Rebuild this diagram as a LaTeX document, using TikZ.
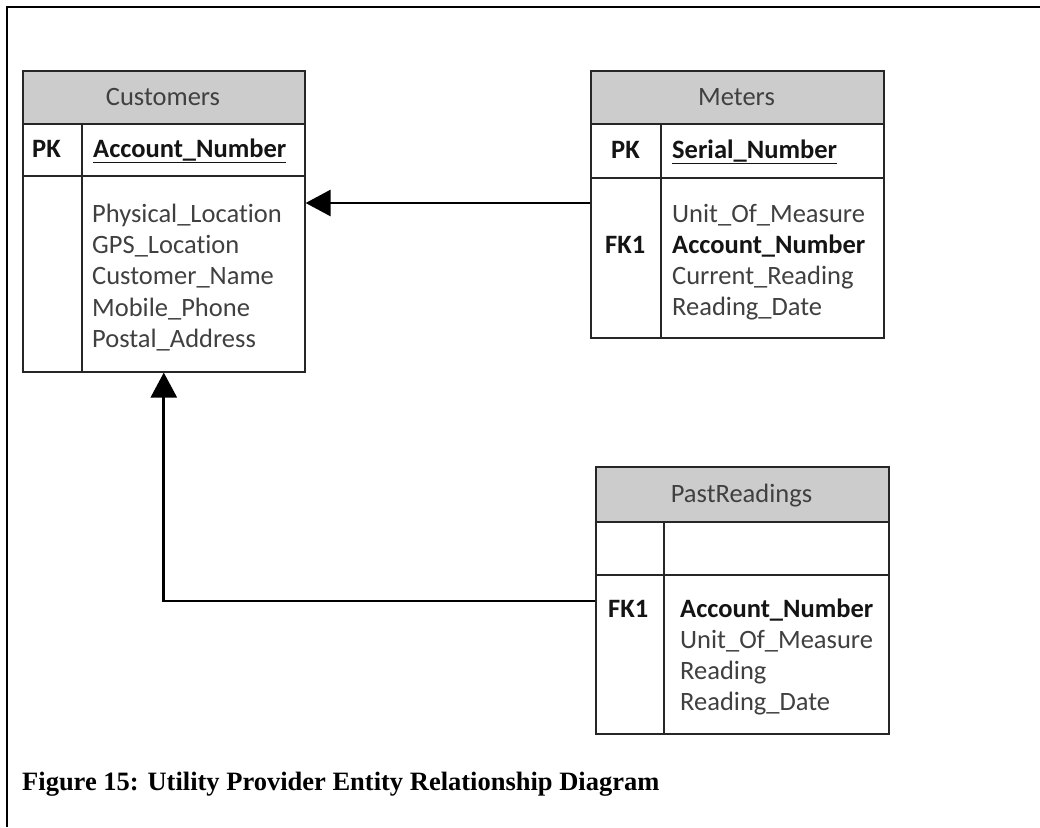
\documentclass[tikz,border=0pt]{standalone}
\usepackage{fontspec}
\setmainfont{Carlito}[Ligatures={NoCommon}]
\newfontfamily\capfont{Liberation Serif}
\usetikzlibrary{arrows.meta}
\definecolor{hdrgray}{RGB}{204,204,204}
\definecolor{txtgray}{RGB}{64,64,64}
\definecolor{keyblack}{RGB}{20,20,20}
\begin{document}
\begin{tikzpicture}[x=1pt,y=-1pt,
  tablebox/.style={draw=black!85,line width=1.6pt,fill=white,inner sep=0pt,anchor=north west},
  headbox/.style={draw=black!85,line width=1.6pt,fill=hdrgray,inner sep=0pt,anchor=north west},
  rule/.style={draw=black!85,line width=1.6pt},
  txt/.style={inner sep=0pt,anchor=base west,text=txtgray,font=\fontsize{26.5}{31}\selectfont},
  keytxt/.style={txt,text=keyblack,font=\fontsize{26.5}{31}\selectfont\bfseries},
  titletxt/.style={txt,anchor=base},
  conn/.style={line width=2.8pt,-{Triangle[length=25pt,width=26pt]}}]
\useasboundingbox (0,0) rectangle (1040,827);
% page frame (top and left edges)
\draw[line width=2pt] (7,827) -- (7,7) -- (1040,7);

% ---------- Customers ----------
\node[tablebox,minimum width=282pt,minimum height=301pt] (cust) at (22,70) {};
\node[headbox,minimum width=282pt,minimum height=53pt] (custhead) at (22,70) {};
\draw[rule] (22,176) -- (304,176);
\draw[rule] (82,123) -- (82,371);
\node[titletxt] (custtitle) at (163,105) {Customers};
\node[keytxt] (custpk) at (32,157) {PK};
\node[keytxt] (custpkname) at (93,157) {\underline{Account\_Number}};
\node[txt] (custa1) at (92,222) {Physical\_Location};
\node[txt] (custa2) at (92,253.3) {GPS\_Location};
\node[txt] (custa3) at (92,284.6) {Customer\_Name};
\node[txt] (custa4) at (92,316) {Mobile\_Phone};
\node[txt] (custa5) at (92,347) {Postal\_Address};

% ---------- Meters ----------
\node[tablebox,minimum width=293pt,minimum height=267pt] (met) at (590,70) {};
\node[headbox,minimum width=293pt,minimum height=53pt] (methead) at (590,70) {};
\draw[rule] (590,178) -- (883,178);
\draw[rule] (661,123) -- (661,337);
\node[titletxt] (mettitle) at (736.5,105) {Meters};
\node[keytxt] (metpk) at (611,158) {PK};
\node[keytxt] (metpkname) at (672,158) {\underline{Serial\_Number}};
\node[keytxt] (metfk) at (605,253) {FK1};
\node[txt] (meta1) at (672,222) {Unit\_Of\_Measure};
\node[keytxt] (meta2) at (672,253) {Account\_Number};
\node[txt] (meta3) at (672,284) {Current\_Reading};
\node[txt] (meta4) at (672,315) {Reading\_Date};

% ---------- PastReadings ----------
\node[tablebox,minimum width=293pt,minimum height=267pt] (past) at (595,466) {};
\node[headbox,minimum width=293pt,minimum height=55pt] (pasthead) at (595,466) {};
\draw[rule] (595,575) -- (888,575);
\draw[rule] (664,521) -- (664,733);
\node[titletxt] (pasttitle) at (741.5,502) {PastReadings};
\node[keytxt] (pastfk) at (608,617) {FK1};
\node[keytxt] (pasta1) at (680,617) {Account\_Number};
\node[txt] (pasta2) at (680,648) {Unit\_Of\_Measure};
\node[txt] (pasta3) at (680,679) {Reading};
\node[txt] (pasta4) at (680,710) {Reading\_Date};

% ---------- relationships ----------
\coordinate (lvl1) at (0,203);
\coordinate (lvl2) at (0,601);
\draw[conn] (met.west |- lvl1) -- (cust.east |- lvl1);
\draw[conn] (past.west |- lvl2) -| (cust.south);

% ---------- caption ----------
\node[inner sep=0pt,anchor=base west,font=\capfont\bfseries\fontsize{26.5}{30}\selectfont] (caption) at (22,790)
  {Figure 15: Utility Provider Entity Relationship Diagram};
\end{tikzpicture}
\end{document}
